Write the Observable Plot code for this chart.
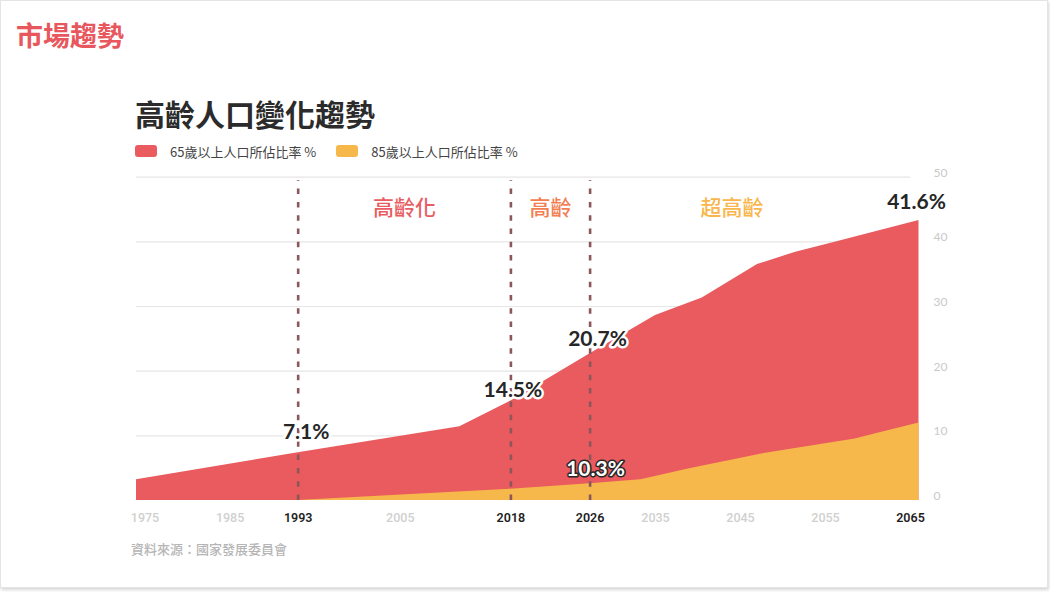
<!DOCTYPE html>
<html><head><meta charset="utf-8">
<script src="https://cdn.jsdelivr.net/npm/d3@7"></script>
<script src="https://cdn.jsdelivr.net/npm/@observablehq/plot@0.6"></script>
<style>
body{margin:0;background:#fff;width:1050px;height:592px;position:relative;overflow:hidden;font-family:"Noto Sans CJK TC",sans-serif}
.card{position:absolute;left:0;top:0;width:1046px;height:586px;border:1px solid #e4e4e4;box-shadow:1px 2px 3px rgba(0,0,0,.16);background:#fff}
.kicker{position:absolute;left:16px;top:20px;font-size:27px;line-height:30px;font-weight:700;color:#e8575d}
.title{position:absolute;left:135px;top:98px;font-size:30px;line-height:30px;font-weight:700;color:#2b2b2b}
.legend{position:absolute;left:135px;top:143px;height:16px;display:flex;align-items:center;font-size:13px;color:#444}
.legend .sw{width:22px;height:12px;border-radius:3px;display:inline-block}
.legend .item{display:flex;align-items:center}
.source{position:absolute;left:131px;top:541px;font-size:13px;line-height:16px;font-weight:500;color:#b5b5b5}
#chart{position:absolute;left:0;top:160px}
</style>
</head><body>
<div class="card"></div>
<div class="kicker">市場趨勢</div>
<div class="title">高齡人口變化趨勢</div>
<div class="legend" id="legend"></div>
<div id="chart"></div>
<div class="source">資料來源：國家發展委員會</div>
<script>
// Series: share of population aged 65+ and 85+ (%)
const years65 = [1974, 1993, 2012, 2018, 2026, 2035, 2040.5, 2047, 2051.5, 2056, 2066];
const values65 = [3.2, 7.4, 11.4, 15.4, 22.7, 28.6, 31.3, 36.5, 38.4, 39.9, 43.3];
const years85 = [1974, 1993, 2008.5, 2018, 2026, 2033, 2039, 2047.5, 2058.5, 2061.5, 2066];
const values85 = [0, 0, 1.1, 1.75, 2.6, 3.2, 4.9, 7.2, 9.5, 10.5, 12.0];

const seriesNames = ["65歲以上人口所佔比率 %", "85歲以上人口所佔比率 %"];
const seriesColors = ["#e95b5f", "#f7b84b"];

// x axis ticks
const xTicks = [1975, 1985, 1993, 2005, 2018, 2026, 2035, 2045, 2055, 2065];
const xTicksHighlight = [1993, 2018, 2026, 2065];
const yTicks = [0, 10, 20, 30, 40, 50];
const gridTicks = [10, 20, 30, 40, 50];

// phase boundaries and phase names
const boundaryYears = [1993, 2018, 2026];
const phaseNames = ["高齡化", "高齡", "超高齡"];
const phaseYears = [2005.5, 2022, 2044];
const phaseColors = ["#e85d62", "#f27e52", "#f8b64c"];

// value callouts
const calloutYears = [1993, 2018, 2026, 2026, 2065];
const calloutValues = [7.1, 14.5, 20.7, 10.3, 41.6];

const data65 = years65.map((x, i) => ({x, y: values65[i]}));
const data85 = years85.map((x, i) => ({x, y: values85[i]}));

// legend
const legend = document.getElementById("legend");
seriesNames.forEach((n, i) => {
  const it = document.createElement("div");
  it.className = "item";
  it.style.marginRight = i === 0 ? "20px" : "0";
  it.innerHTML = `<span class="sw" style="background:${seriesColors[i]}"></span><span style="margin-left:13px">${n}</span>`;
  legend.appendChild(it);
});

const num = "Lato, 'Noto Sans CJK TC', sans-serif";
const cjk = "'Noto Sans CJK TC', sans-serif";

const calloutStyle = [
  {dx: 8, dy: -22.4, fill: "#262626", stroke: "white"},
  {dx: 2, dy: -16, fill: "#262626", stroke: "white"},
  {dx: 7.4, dy: -27, fill: "#262626", stroke: "white"},
  {dx: 5.4, dy: 35, fill: "white", stroke: "#262626"},
  {dx: 6, dy: -29.3, fill: "#262626", stroke: "none"}
];

const marks = [
  Plot.ruleY(gridTicks, {y: d => d, x1: () => 1974, x2: () => 2065, stroke: "#e6e6e6", strokeWidth: 1.2}),
  Plot.areaY(data65, {x: "x", y: "y", fill: seriesColors[0]}),
  Plot.areaY(data85, {x: "x", y: "y", fill: seriesColors[1]}),
  Plot.ruleX(boundaryYears, {x: d => d, y1: () => 0, y2: () => 49.5, stroke: "#8b575a", strokeWidth: 2.6, strokeDasharray: "5.5,7.8"}),
  ...phaseNames.map((n, i) => Plot.text([n], {x: () => phaseYears[i], frameAnchor: "top", dy: 23.3, text: d => d, fill: phaseColors[i], fontSize: 21, fontWeight: 500, fontFamily: cjk})),
  ...calloutValues.map((v, i) => Plot.text([v], {
    x: () => calloutYears[i], y: d => d, text: d => d.toFixed(1) + "%",
    dx: calloutStyle[i].dx, dy: calloutStyle[i].dy,
    fill: calloutStyle[i].fill, stroke: calloutStyle[i].stroke,
    strokeWidth: calloutStyle[i].fill === "white" ? 3 : 5, strokeLinejoin: "round",
    fontSize: 21, fontWeight: 700, fontFamily: num
  })),
  Plot.text(xTicks.filter(t => !xTicksHighlight.includes(t)), {x: d => d, y: () => 0, dy: 17, text: d => String(d), fill: "#d0d0d0", fontSize: 12.5, fontWeight: 500, fontFamily: "Roboto, sans-serif"}),
  Plot.text(xTicksHighlight, {x: d => d, y: () => 0, dy: 17, text: d => String(d), fill: "#1f1f1f", fontSize: 12.5, fontWeight: 600, fontFamily: "Roboto, sans-serif"}),
  Plot.text(yTicks, {y: d => d, frameAnchor: "right", dx: 14.5, dy: -4.5, textAnchor: "start", text: d => String(d), fill: "#c9c9c9", fontSize: 12, fontFamily: num})
];

const chart = Plot.plot({
  width: 1050,
  height: 400,
  marginLeft: 136,
  marginRight: 131.5,
  marginTop: 16.7,
  marginBottom: 60,
  style: {background: "transparent", fontFamily: num},
  x: {type: "linear", domain: [1974, 2018, 2026, 2035, 2066], range: [136, 510.4, 589.6, 655, 918.5], axis: null},
  y: {domain: [0, 50], axis: null},
  marks
});
document.getElementById("chart").appendChild(chart);
</script>
</body></html>
